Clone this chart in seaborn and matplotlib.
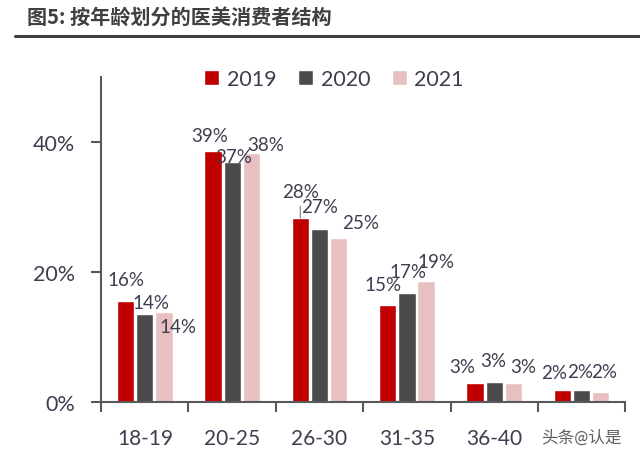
import pandas as pd
import matplotlib
matplotlib.use("Agg")
import matplotlib.pyplot as plt
import seaborn as sns

# %% data
ages = ["18-19", "20-25", "26-30", "31-35", "36-40", "41+"]
v2019 = [15.5, 38.6, 28.3, 14.9, 2.9, 1.8]
v2020 = [13.5, 36.9, 26.6, 16.8, 3.1, 1.8]
v2021 = [13.8, 38.3, 25.2, 18.6, 2.9, 1.6]
years = ["2019", "2020", "2021"]
labels2019 = ["16%", "39%", "28%", "15%", "3%", "2%"]
labels2020 = ["14%", "37%", "27%", "17%", "3%", "2%"]
labels2021 = ["14%", "38%", "25%", "19%", "3%", "2%"]
tick_labels = ["18-19", "20-25", "26-30", "31-35", "36-40", "头条@认是"]

df = pd.DataFrame({
    "age": ages * 3,
    "year": [y for y in years for _ in ages],
    "value": v2019 + v2020 + v2021,
})
bar_labels = [labels2019, labels2020, labels2021]

# label nudges in pixels (dx, dy) from the top centre of each bar
nudges = [
    [(0, 22), (-3, 16), (0, 27), (-5, 21), (-13, 17), (-8, 18)],
    [(6, 12), (1, 6), (0, 23), (1, 21), (-1, 21), (-1, 19)],
    [(14, -14), (14, 9), (22, 16), (10, 20), (10, 17), (3, 20)],
]

# %% plot
sns.set_theme(style="white")
plt.rcParams["font.family"] = ["Lato", "Noto Sans CJK SC", "DejaVu Sans"]
txt = "#3d3f4f"
spine = "#595959"
palette = {"2019": "#C00000", "2020": "#4B4B4D", "2021": "#E8C0C1"}

fig = plt.figure(figsize=(6.4, 4.56), dpi=100)
ax = fig.add_axes([0.158, 0.116, 0.819, 0.713])
sns.barplot(data=df, x="age", y="value", hue="year", palette=palette,
            width=0.66, gap=0.1, saturation=1, ax=ax, legend=True)

for cont, labs, offs in zip(ax.containers, bar_labels, nudges):
    for i, (bar, lab) in enumerate(zip(cont, labs)):
        x = bar.get_x() + bar.get_width() / 2
        h = bar.get_height()
        dx, dy = offs[i]
        ax.annotate(lab, (x, h), xytext=(dx, dy), textcoords="offset pixels",
                    ha="center", va="center", fontsize=13.5, color=txt)

# leader line for the 28% label
bar = ax.containers[0][2]
ax.annotate("", (bar.get_x() + bar.get_width() / 2, bar.get_height()),
            xytext=(0, 12), textcoords="offset pixels",
            arrowprops=dict(arrowstyle="-", color="#808080", lw=0.8,
                            shrinkA=0, shrinkB=0))

ax.set_ylim(0, 50)
ax.set_xlim(-0.5, 5.5)
ax.set_yticks([0, 20, 40])
ax.set_yticklabels(["0%", "20%", "40%"])
ax.set_xticks(range(len(ages)))
ax.set_xticklabels(tick_labels)
ax.set_xticks([i - 0.5 for i in range(len(ages) + 1)], minor=True)
ax.tick_params(axis="x", which="major", length=0, pad=19, labelsize=15, labelcolor=txt)
ax.tick_params(axis="x", which="minor", length=7, width=1.5, color=spine, direction="out")
ax.tick_params(axis="y", length=7, width=1.5, color=spine, direction="out",
               pad=12, labelsize=15.5, labelcolor=txt)
ax.xaxis.set_ticks_position("bottom")
ax.yaxis.set_ticks_position("left")
wm = ax.get_xticklabels()[-1]
wm.set_fontsize(12)
wm.set_color("#606060")
ax.set_xlabel("")
ax.set_ylabel("")
for s in ["top", "right"]:
    ax.spines[s].set_visible(False)
for s in ["left", "bottom"]:
    ax.spines[s].set_color(spine)
    ax.spines[s].set_linewidth(1.5)

handles, lbls = ax.get_legend_handles_labels()
ax.get_legend().remove()
fig.legend(handles, lbls, loc="center", bbox_to_anchor=(0.522, 0.825), ncol=3,
           frameon=False, fontsize=15.5, labelcolor=txt, handlelength=0.7,
           handleheight=0.7, handletextpad=0.35, columnspacing=1.0)

# title and rule
fig.text(0.042, 0.963, "图5: 按年龄划分的医美消费者结构", fontsize=14.5, fontweight="bold",
         color="#404040", ha="left", va="center",
         family=["Noto Sans CJK SC", "DejaVu Sans"])
fig.add_artist(plt.Line2D([0.023, 1.0], [0.919, 0.919], color="#404040", lw=2.2))

fig.savefig("out.png", dpi=100)
